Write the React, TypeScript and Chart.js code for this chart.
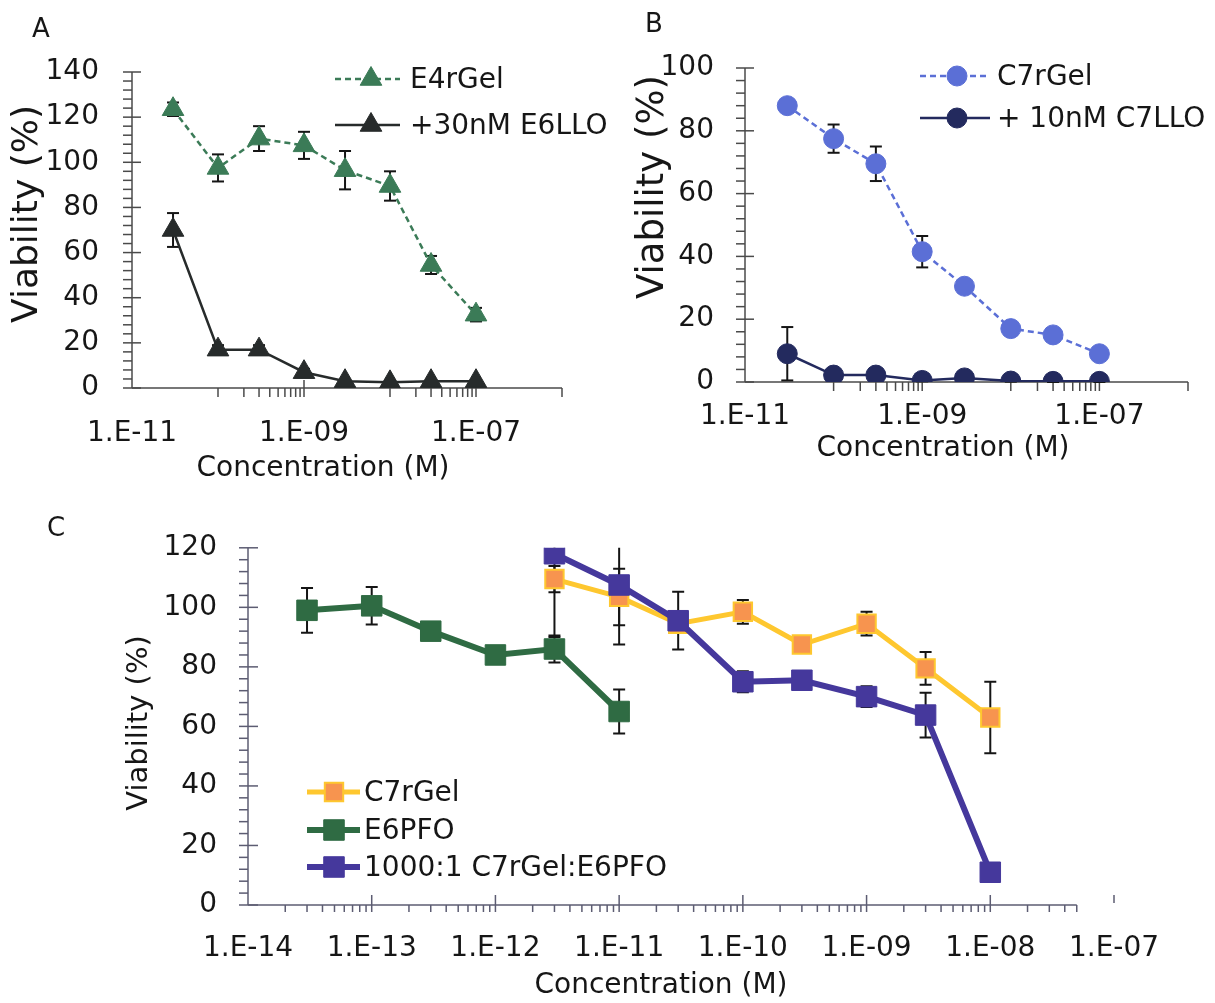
import React, { useEffect, useRef } from 'react';
import { Chart, registerables } from 'chart.js';
import { drawPoint } from 'chart.js/helpers';

Chart.register(...registerables);

const FONT = "'DejaVu Sans', 'Verdana', sans-serif";
const TEXT = '#161616';

// ---------- Panel A ----------
const concA = [3e-11, 1e-10, 3e-10, 1e-9, 3e-9, 1e-8, 3e-8, 1e-7];
const e4rGel = [123.5, 97.5, 110.5, 107.5, 96.5, 89.5, 54.5, 32.5];
const e4rGelErr = [3, 6, 5.5, 6, 8.5, 6.5, 4, 3];
const e6llo = [70, 17, 17, 7, 3, 2.5, 3, 3];
const e6lloErr = [7.5, 2, 2, 1.5, 0.5, 0.5, 0.5, 0.5];

// ---------- Panel B ----------
const concB = [3e-11, 1e-10, 3e-10, 1e-9, 3e-9, 1e-8, 3e-8, 1e-7];
const c7rGelB = [88, 77.5, 69.5, 41.5, 30.5, 17, 15, 9];
const c7rGelBErr = [1, 4.5, 5.5, 5, 1, 1, 1, 1];
const c7llo = [9, 2.2, 2.2, 0.5, 1.3, 0.3, 0.2, 0.2];
const c7lloErr = [8.5, 0.5, 0.5, 0.3, 0.3, 0.2, 0.2, 0.2];

const xTicksAB = [1e-11, 1e-9, 1e-7];
const xTickLabelsAB = ['1.E-11', '1.E-09', '1.E-07'];

// ---------- Panel C ----------
const concC7 = [3e-12, 1e-11, 3e-11, 1e-10, 3e-10, 1e-9, 3e-9, 1e-8];
const c7rGelC = [109.5, 103.5, 94.5, 98.5, 87.5, 94.5, 79.5, 63];
const c7rGelCErr = [4.4, 9.5, 3, 4, 1.5, 4, 5.5, 12];
const concE6 = [3e-14, 1e-13, 3e-13, 1e-12, 3e-12, 1e-11];
const e6pfo = [99, 100.5, 92, 84, 86, 65];
const e6pfoErr = [7.5, 6.3, 3, 1, 4.5, 7.4];
const combo = [118, 107.5, 95.5, 75, 75.5, 70, 63.8, 11];
const comboErr = [28, 20, 9.7, 3.5, 2, 3.5, 7.5, 2.5];

const xTicksC = [1e-14, 1e-13, 1e-12, 1e-11, 1e-10, 1e-9, 1e-8, 1e-7];
const xTickLabelsC = ['1.E-14', '1.E-13', '1.E-12', '1.E-11', '1.E-10', '1.E-09', '1.E-08', '1.E-07'];

const pts = (xs: number[], ys: number[]) => xs.map((x, i) => ({ x, y: ys[i] }));

// ---------- plugins ----------
function seg(ctx: CanvasRenderingContext2D, x1: number, y1: number, x2: number, y2: number) {
  ctx.beginPath();
  ctx.moveTo(x1, y1);
  ctx.lineTo(x2, y2);
  ctx.stroke();
}

const axesPlugin = {
  id: 'axesDraw',
  beforeDatasetsDraw(chart: any, _a: any, o: any) {
    const { ctx, chartArea: ca } = chart;
    const xs = chart.scales.x;
    const ys = chart.scales.y;
    ctx.save();
    ctx.strokeStyle = o.color;
    ctx.lineWidth = o.lineWidth;
    const x0 = ca.left;
    const y0 = ca.bottom;
    seg(ctx, x0, ca.top, x0, y0);
    for (let v = ys.min; v <= ys.max + 1e-9; v += o.yMinor) {
      const y = ys.getPixelForValue(v);
      const major = Math.abs(v / o.yMajor - Math.round(v / o.yMajor)) < 1e-6;
      seg(ctx, x0 - o.yTickOut, y, major ? x0 + o.yTickIn : x0, y);
    }
    const xEnd = xs.getPixelForValue(o.xLineEnd);
    seg(ctx, x0, y0, xEnd, y0);
    const decades: number[] = o.minorDecades;
    decades.forEach((d: number) => {
      for (let k = 2; k <= 9; k++) {
        const v = k * d;
        if (v > o.xLineEnd * 1.0001) break;
        const x = xs.getPixelForValue(v);
        seg(ctx, x, y0, x, y0 + o.xMinorLen);
      }
    });
    (o.majorDown as number[]).forEach((v: number) => {
      const x = xs.getPixelForValue(v);
      seg(ctx, x, y0, x, y0 + o.xMajorDown);
    });
    (o.majorCross as number[]).forEach((v: number) => {
      const x = xs.getPixelForValue(v);
      seg(ctx, x, y0 - o.xMajorUp, x, y0 + o.xMajorDown);
    });
    (o.stray as number[]).forEach((v: number) => {
      const x = xs.getPixelForValue(v);
      seg(ctx, x, y0 - 10, x, y0 - 2);
    });
    ctx.restore();
  },
};

const errorBarsPlugin = {
  id: 'errorBars',
  beforeDatasetsDraw(chart: any, _a: any, o: any) {
    const { ctx, chartArea: ca } = chart;
    const xs = chart.scales.x;
    const ys = chart.scales.y;
    ctx.save();
    ctx.beginPath();
    ctx.rect(ca.left, ca.top, ca.right - ca.left, ca.bottom - ca.top + 2);
    ctx.clip();
    ctx.strokeStyle = o.color;
    ctx.lineWidth = o.width;
    chart.data.datasets.forEach((ds: any) => {
      const errs: number[] | undefined = ds.errors;
      if (!errs) return;
      ds.data.forEach((p: any, i: number) => {
        const e = errs[i];
        if (!e) return;
        const x = xs.getPixelForValue(p.x);
        const yt = ys.getPixelForValue(p.y + e);
        const yb = ys.getPixelForValue(p.y - e);
        seg(ctx, x, yt, x, yb);
        seg(ctx, x - o.cap, yt, x + o.cap, yt);
        seg(ctx, x - o.cap, yb, x + o.cap, yb);
      });
    });
    ctx.restore();
  },
};

const legendPlugin = {
  id: 'customLegend',
  afterDatasetsDraw(chart: any, _a: any, o: any) {
    const ctx = chart.ctx;
    const items = o.items;
    for (let j = 0; j < items.length; j++) {
      const it = items[j];
      const ds = chart.data.datasets[it.index];
      const y = it.y;
      ctx.save();
      ctx.strokeStyle = ds.borderColor;
      ctx.lineWidth = ds.borderWidth;
      ctx.setLineDash(ds.borderDash || []);
      seg(ctx, o.lineX0, y, o.lineX1, y);
      ctx.setLineDash([]);
      ctx.fillStyle = ds.pointBackgroundColor;
      ctx.strokeStyle = ds.pointBorderColor;
      ctx.lineWidth = ds.pointBorderWidth;
      drawPoint(ctx, { pointStyle: ds.pointStyle, radius: ds.pointRadius, rotation: 0, borderWidth: ds.pointBorderWidth } as any, o.markerX, y);
      ctx.fillStyle = TEXT;
      ctx.font = `${o.size}px ${FONT}`;
      ctx.textAlign = 'left';
      ctx.textBaseline = 'middle';
      ctx.fillText(ds.label, o.textX, y + 2);
      ctx.restore();
    }
  },
};

const titlesPlugin = {
  id: 'axisTitles',
  afterDraw(chart: any, _a: any, o: any) {
    const ctx = chart.ctx;
    ctx.save();
    ctx.fillStyle = TEXT;
    ctx.textAlign = 'center';
    ctx.textBaseline = 'alphabetic';
    ctx.font = `${o.xSize}px ${FONT}`;
    ctx.fillText(o.xText, o.xCx, o.xBaseline);
    ctx.translate(o.yBaseline, o.yCy);
    ctx.rotate(-Math.PI / 2);
    ctx.font = `${o.ySize}px ${FONT}`;
    ctx.fillText(o.yText, 0, 0);
    ctx.restore();
  },
};

// ---------- config builder ----------
function buildConfig(s: any): any {
  return {
    type: 'line',
    data: { datasets: s.datasets },
    options: {
      animation: false,
      responsive: false,
      maintainAspectRatio: false,
      devicePixelRatio: 1,
      layout: { padding: s.padding },
      plugins: {
        legend: { display: false },
        tooltip: { enabled: false },
        axesDraw: s.axes,
        errorBars: { color: '#151515', width: 2, cap: 6 },
        customLegend: s.legend,
        axisTitles: s.titles,
      },
      scales: {
        x: {
          type: 'logarithmic',
          min: s.xMin,
          max: s.xMax,
          grid: { display: false, drawTicks: false },
          border: { display: false },
          afterBuildTicks: (sc: any) => {
            sc.ticks = s.xTicks.map((v: number) => ({ value: v }));
          },
          afterFit: (sc: any) => {
            sc.height = s.xHeight;
          },
          ticks: {
            autoSkip: false,
            maxRotation: 0,
            minRotation: 0,
            padding: s.xLabelPad,
            color: TEXT,
            font: { family: FONT, size: 28 },
            callback: (_v: any, i: number) => s.xTickLabels[i],
          },
        },
        y: {
          type: 'linear',
          min: 0,
          max: s.yMax,
          grid: { display: false, drawTicks: false },
          border: { display: false },
          afterFit: (sc: any) => {
            sc.width = s.yWidth;
          },
          ticks: {
            stepSize: 20,
            padding: s.yLabelPad,
            color: TEXT,
            font: { family: FONT, size: 28 },
          },
        },
      },
    },
    plugins: [axesPlugin, errorBarsPlugin, legendPlugin, titlesPlugin],
  };
}

// ---------- panel specs ----------
const GREEN_A = '#3b7b57';
const DARK_A = '#272b2b';
const BLUE_B = '#5b6fd6';
const NAVY_B = '#232a5e';
const YELLOW_C = '#fec72f';
const ORANGE_C = '#f7944f';
const GREEN_C = '#2f6b43';
const PURPLE_C = '#45389c';

const specA = {
  width: 640,
  height: 500,
  padding: { left: 0, top: 72, right: 78, bottom: 0 },
  yWidth: 132,
  xHeight: 112,
  xMin: 1e-11,
  xMax: 1e-6,
  xTicks: xTicksAB,
  xTickLabels: xTickLabelsAB,
  xLabelPad: 29,
  yMax: 140,
  yLabelPad: 33,
  datasets: [
    {
      label: 'E4rGel',
      data: pts(concA, e4rGel),
      errors: e4rGelErr,
      borderColor: GREEN_A,
      borderWidth: 2.5,
      borderDash: [6, 4],
      pointStyle: 'triangle',
      pointRadius: 12.5,
      pointBackgroundColor: GREEN_A,
      pointBorderColor: GREEN_A,
      pointBorderWidth: 1,
      tension: 0,
      order: 2,
    },
    {
      label: '+30nM E6LLO',
      data: pts(concA, e6llo),
      errors: e6lloErr,
      borderColor: DARK_A,
      borderWidth: 2.5,
      pointStyle: 'triangle',
      pointRadius: 12.5,
      pointBackgroundColor: DARK_A,
      pointBorderColor: DARK_A,
      pointBorderWidth: 1,
      tension: 0,
      order: 1,
    },
  ],
  axes: {
    color: '#4a4a4a',
    lineWidth: 1.5,
    yMajor: 20,
    yMinor: 4,
    yTickOut: 9,
    yTickIn: 9,
    xLineEnd: 1e-6,
    minorDecades: [1e-10, 1e-8],
    majorDown: [1e-10, 1e-8, 1e-6],
    majorCross: [1e-9, 1e-7],
    stray: [],
    xMinorLen: 9,
    xMajorDown: 9,
    xMajorUp: 8,
  },
  legend: {
    items: [
      { index: 0, y: 79 },
      { index: 1, y: 125 },
    ],
    lineX0: 335,
    lineX1: 400,
    markerX: 371,
    textX: 410,
    size: 28,
  },
  titles: {
    xText: 'Concentration (M)',
    xCx: 323,
    xBaseline: 476,
    xSize: 28,
    yText: 'Viability (%)',
    yBaseline: 37,
    yCy: 214,
    ySize: 36,
  },
};

const specB = {
  width: 615,
  height: 500,
  padding: { left: 0, top: 68, right: 27, bottom: 0 },
  yWidth: 145,
  xHeight: 118,
  xMin: 1e-11,
  xMax: 1e-6,
  xTicks: xTicksAB,
  xTickLabels: xTickLabelsAB,
  xLabelPad: 18,
  yMax: 100,
  yLabelPad: 31,
  datasets: [
    {
      label: 'C7rGel',
      data: pts(concB, c7rGelB),
      errors: c7rGelBErr,
      borderColor: BLUE_B,
      borderWidth: 2.5,
      borderDash: [6, 4],
      pointStyle: 'circle',
      pointRadius: 10,
      pointBackgroundColor: BLUE_B,
      pointBorderColor: BLUE_B,
      pointBorderWidth: 1,
      tension: 0,
      order: 2,
    },
    {
      label: '+ 10nM C7LLO',
      data: pts(concB, c7llo),
      errors: c7lloErr,
      borderColor: NAVY_B,
      borderWidth: 2.5,
      pointStyle: 'circle',
      pointRadius: 10,
      pointBackgroundColor: NAVY_B,
      pointBorderColor: NAVY_B,
      pointBorderWidth: 1,
      tension: 0,
      order: 1,
    },
  ],
  axes: {
    color: '#4a4a4a',
    lineWidth: 1.5,
    yMajor: 20,
    yMinor: 4,
    yTickOut: 9,
    yTickIn: 9,
    xLineEnd: 1e-6,
    minorDecades: [1e-10, 1e-8],
    majorDown: [1e-10, 1e-8, 1e-6],
    majorCross: [1e-9, 1e-7],
    stray: [],
    xMinorLen: 9,
    xMajorDown: 9,
    xMajorUp: 8,
  },
  legend: {
    items: [
      { index: 0, y: 76 },
      { index: 1, y: 118 },
    ],
    lineX0: 320,
    lineX1: 390,
    markerX: 357,
    textX: 397,
    size: 28,
  },
  titles: {
    xText: 'Concentration (M)',
    xCx: 343,
    xBaseline: 456,
    xSize: 28,
    yText: 'Viability (%)',
    yBaseline: 63,
    yCy: 187,
    ySize: 37,
  },
};

const specC = {
  width: 1215,
  height: 503,
  padding: { left: 0, top: 39, right: 101, bottom: 0 },
  yWidth: 248,
  xHeight: 98,
  xMin: 1e-14,
  xMax: 1e-7,
  xTicks: xTicksC,
  xTickLabels: xTickLabelsC,
  xLabelPad: 27,
  yMax: 120,
  yLabelPad: 31,
  datasets: [
    {
      label: 'C7rGel',
      data: pts(concC7, c7rGelC),
      errors: c7rGelCErr,
      borderColor: YELLOW_C,
      borderWidth: 5,
      pointStyle: 'rect',
      pointRadius: 13,
      pointBackgroundColor: ORANGE_C,
      pointBorderColor: YELLOW_C,
      pointBorderWidth: 2,
      tension: 0,
      order: 3,
    },
    {
      label: 'E6PFO',
      data: pts(concE6, e6pfo),
      errors: e6pfoErr,
      borderColor: GREEN_C,
      borderWidth: 6,
      pointStyle: 'rect',
      pointRadius: 14.5,
      pointBackgroundColor: GREEN_C,
      pointBorderColor: GREEN_C,
      pointBorderWidth: 1,
      tension: 0,
      order: 2,
    },
    {
      label: '1000:1 C7rGel:E6PFO',
      data: pts(concC7, combo),
      errors: comboErr,
      borderColor: PURPLE_C,
      borderWidth: 6,
      pointStyle: 'rect',
      pointRadius: 14.5,
      pointBackgroundColor: PURPLE_C,
      pointBorderColor: PURPLE_C,
      pointBorderWidth: 1,
      tension: 0,
      order: 1,
    },
  ],
  axes: {
    color: '#5c5c72',
    lineWidth: 1.5,
    yMajor: 20,
    yMinor: 4,
    yTickOut: 9,
    yTickIn: 10,
    xLineEnd: 5e-8,
    minorDecades: [1e-14, 1e-13, 1e-12, 1e-11, 1e-10, 1e-9, 1e-8],
    majorDown: [],
    majorCross: [1e-13, 1e-12, 1e-11, 1e-10, 1e-9, 1e-8],
    stray: [1e-7],
    xMinorLen: 7,
    xMajorDown: 7,
    xMajorUp: 10,
  },
  legend: {
    items: [
      { index: 0, y: 292 },
      { index: 1, y: 330 },
      { index: 2, y: 367 },
    ],
    lineX0: 307,
    lineX1: 360,
    markerX: 334,
    textX: 364,
    size: 28,
  },
  titles: {
    xText: 'Concentration (M)',
    xCx: 661,
    xBaseline: 493,
    xSize: 28,
    yText: 'Viability (%)',
    yBaseline: 147,
    yCy: 223,
    ySize: 29,
  },
};

function ChartPanel({ spec, left, top }: { spec: any; left: number; top: number }) {
  const ref = useRef<HTMLCanvasElement>(null);
  useEffect(() => {
    if (!ref.current) return;
    const chart = new Chart(ref.current, buildConfig(spec));
    return () => chart.destroy();
  }, [spec]);
  return (
    <canvas
      ref={ref}
      width={spec.width}
      height={spec.height}
      style={{ position: 'absolute', left, top, width: spec.width, height: spec.height }}
    />
  );
}

const letterStyle = (left: number, top: number): React.CSSProperties => ({
  position: 'absolute',
  left,
  top,
  fontFamily: FONT,
  fontSize: 26,
  lineHeight: '26px',
  color: TEXT,
});

export default function App() {
  return (
    <div style={{ position: 'absolute', left: 0, top: 0, width: 1215, height: 1003, background: '#ffffff', overflow: 'hidden' }}>
      <ChartPanel spec={specB} left={600} top={0} />
      <ChartPanel spec={specA} left={0} top={0} />
      <ChartPanel spec={specC} left={0} top={500} />
      <div style={letterStyle(32, 15)}>A</div>
      <div style={letterStyle(645, 10)}>B</div>
      <div style={letterStyle(47, 514)}>C</div>
    </div>
  );
}
